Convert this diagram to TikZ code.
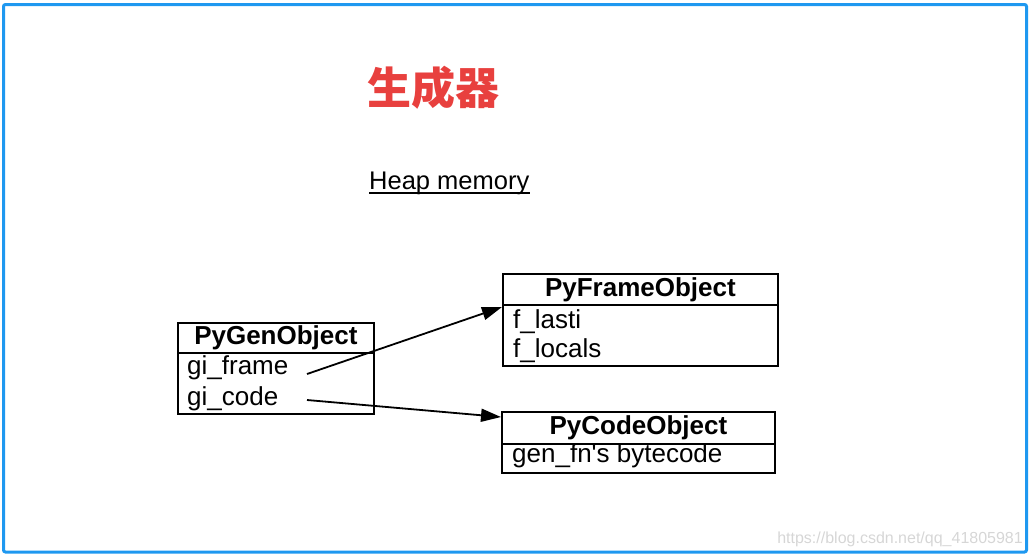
\documentclass[tikz,border=0pt]{standalone}
\usepackage{fontspec}
\setmainfont{Liberation Sans}
\newfontfamily\cjk{Noto Sans CJK SC}
\usetikzlibrary{shapes,arrows.meta}
\definecolor{slideblue}{RGB}{30,152,240}
\definecolor{titlered}{RGB}{232,64,62}

\begin{document}
\begin{tikzpicture}[x=1pt, y=-1pt]
\tikzstyle{headbox}=[rectangle, draw=black, line width=1.8pt, anchor=north west, inner sep=0pt, font=\fontsize{26}{30}\selectfont\bfseries]
\tikzstyle{bodybox}=[rectangle, draw=black, line width=1.8pt, anchor=north west, inner sep=0pt]
\tikzstyle{field}=[anchor=base west, inner sep=0pt, font=\fontsize{26}{30}\selectfont]
\tikzstyle{drawstyle}=[line width=1.8pt, -{Triangle[length=20pt, width=13pt]}]

\useasboundingbox (0,0) rectangle (1032,555);
\draw[slideblue, line width=3pt, rounded corners=2pt] (3.5,4.5) rectangle (1026.5,552);

\node[text=titlered, font=\cjk\bfseries\fontsize{44}{44}\selectfont] (title) at (433,88) {生成器};
\node[field, font=\fontsize{25.5}{30}\selectfont] (heap) at (369,189) {Heap memory};
\draw[line width=1.2pt] ([yshift=-4pt]heap.base west) -- ([yshift=-4pt]heap.base east);

% generator object
\node[headbox, minimum width=196pt, minimum height=30pt] (ghead) at (177,322) {PyGenObject};
\node[bodybox, minimum width=196pt, minimum height=61pt] (gbody) at (177,352) {};
\node[field] (gframe) at (187,374) {gi\_frame};
\node[field] (gcode) at (187,405) {gi\_code};
\coordinate (frameptr) at (307,374);
\coordinate (codeptr) at (307,400);

% frame object
\node[headbox, minimum width=275pt, minimum height=31pt] (fhead) at (502,273) {PyFrameObject};
\node[bodybox, minimum width=275pt, minimum height=61pt] (fbody) at (502,304) {};
\node[field] (flasti) at (513,328) {f\_lasti};
\node[field] (flocals) at (513,357) {f\_locals};

% code object
\node[headbox, minimum width=273pt, minimum height=32pt] (chead) at (501,411) {PyCodeObject};
\node[bodybox, minimum width=273pt, minimum height=29pt] (cbody) at (501,443) {};
\node[field] (cbytes) at (512,462) {gen\_fn\textquotesingle s bytecode};

\draw[drawstyle] (frameptr) -- ([yshift=-3pt]fbody.north west);
\draw[drawstyle] (codeptr) -- ([yshift=-6pt]chead.north west);

\node[anchor=base east, inner sep=0pt, text=black!16, font=\fontsize{16}{16}\selectfont] (mark) at (1023,543) {https://blog.csdn.net/qq\_41805981};
\end{tikzpicture}
\end{document}
